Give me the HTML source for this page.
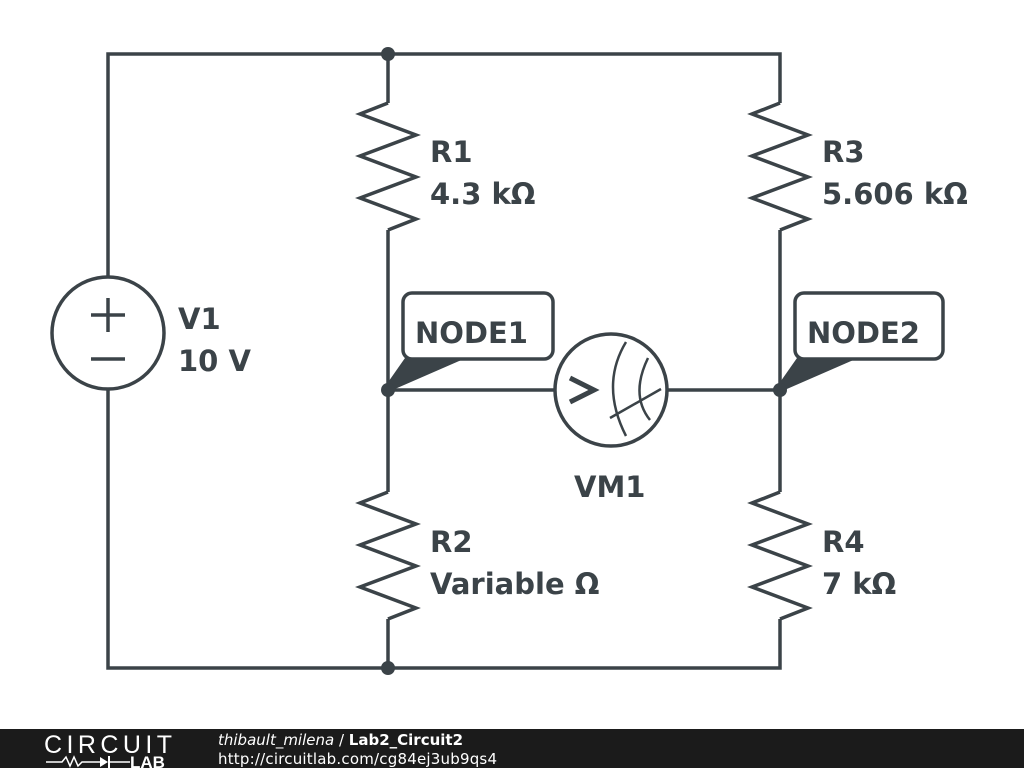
<!DOCTYPE html>
<html><head><meta charset="utf-8"><style>
body{margin:0;width:1024px;height:768px;background:#fff;overflow:hidden;font-family:"DejaVu Sans",sans-serif}
</style></head><body>
<svg width="1024" height="768" viewBox="0 0 1024 768" xmlns="http://www.w3.org/2000/svg" style="position:absolute;left:0;top:0">
<g stroke="#3b4348" stroke-width="3.5" fill="none" stroke-linejoin="miter">
<polyline points="108,276 108,54 780,54 780,103"/>
<polyline points="108,390 108,668 780,668 780,619"/>
<line x1="388" y1="54" x2="388" y2="103"/>
<line x1="388" y1="230" x2="388" y2="492"/>
<line x1="388" y1="619" x2="388" y2="668"/>
<line x1="780" y1="230" x2="780" y2="492"/>
<line x1="388" y1="390" x2="555" y2="390"/>
<line x1="667" y1="390" x2="780" y2="390"/>
<polyline points="388,103 360,114 416,135 360,156 416,177 360,198 416,219 388,230"/>
<polyline points="780,103 752,114 808,135 752,156 808,177 752,198 808,219 780,230"/>
<polyline points="388,492 360,503 416,524 360,545 416,566 360,587 416,608 388,619"/>
<polyline points="780,492 752,503 808,524 752,545 808,566 752,587 808,608 780,619"/>
<circle cx="108" cy="333" r="56"/>
<line x1="91" y1="315" x2="125" y2="315"/>
<line x1="108" y1="298" x2="108" y2="332"/>
<line x1="91" y1="359" x2="125" y2="359"/>
<circle cx="611" cy="390" r="56"/>
<path d="M626,342 Q600,385 626,436" stroke-width="2.5"/>
<path d="M648,358 Q630,395 650,420" stroke-width="2.5"/>
<line x1="610" y1="418" x2="661" y2="389" stroke-width="2.5"/>
<polyline points="570,378 594,390 570,402" stroke-width="5"/>
<rect x="403" y="293" width="150" height="66" rx="9" fill="#fff"/>
<rect x="795" y="293" width="148" height="66" rx="9" fill="#fff"/>
</g>
<g fill="#3b4348">
<polygon points="405,358 466,358 388,392 384,388"/>
<polygon points="797,358 858,358 780,392 776,388"/>
<circle cx="388" cy="54" r="7"/>
<circle cx="388" cy="390" r="7"/>
<circle cx="388" cy="668" r="7"/>
<circle cx="780" cy="390" r="7"/>
<g font-weight="bold" font-size="29">
<text x="415" y="343">NODE1</text>
<text x="807" y="343">NODE2</text>
<text x="430" y="162">R1</text>
<text x="430" y="204">4.3 kΩ</text>
<text x="822" y="162">R3</text>
<text x="822" y="204">5.606 kΩ</text>
<text x="430" y="552">R2</text>
<text x="430" y="594">Variable Ω</text>
<text x="822" y="552">R4</text>
<text x="822" y="594">7 kΩ</text>
<text x="178" y="329">V1</text>
<text x="178" y="371">10 V</text>
<text x="574" y="497">VM1</text>
</g>
</g>
<rect x="0" y="729" width="1024" height="39" fill="#1b1b1b"/>
<text x="44" y="753" fill="#fff" font-size="25" font-family="Liberation Sans" textLength="128">CIRCUIT</text>
<polyline points="46,762 62,762 66,757 70,766 74,757 78,766 82,762 100,762" stroke="#fff" stroke-width="1.5" fill="none"/>
<polygon points="100,757 100,767 108,762" fill="#fff"/>
<line x1="109" y1="756" x2="109" y2="768" stroke="#fff" stroke-width="2"/>
<line x1="109" y1="762" x2="130" y2="762" stroke="#fff" stroke-width="1.5"/>
<text x="130" y="768" fill="#fff" font-size="17" font-weight="bold" font-family="Liberation Sans">LAB</text>
<text x="218" y="745" fill="#fff" font-size="15"><tspan font-style="italic">thibault_milena</tspan> / <tspan font-weight="bold">Lab2_Circuit2</tspan></text>
<text x="218" y="764" fill="#fff" font-size="15" textLength="279">http://circuitlab.com/cg84ej3ub9qs4</text>
</svg>
</body></html>
